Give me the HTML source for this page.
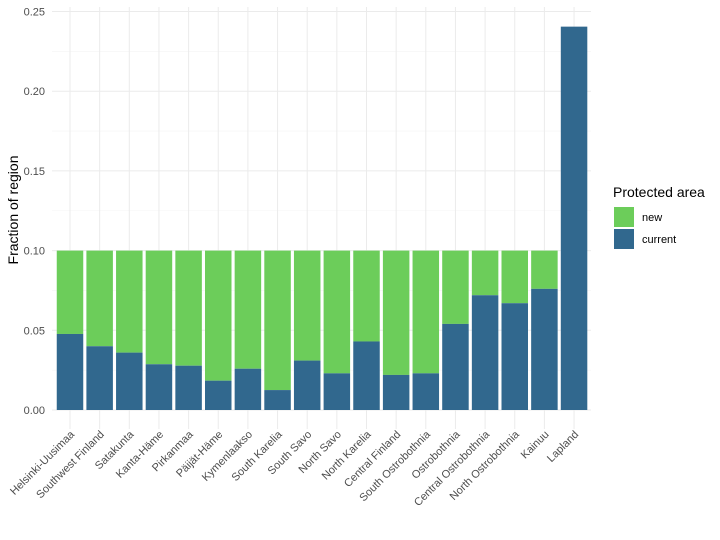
<!DOCTYPE html>
<html><head><meta charset="utf-8"><style>body{margin:0;background:#fff}svg{display:block}</style></head>
<body>
<svg width="720" height="540" xmlns="http://www.w3.org/2000/svg" font-family="Liberation Sans, sans-serif">
<rect width="720" height="540" fill="#fff"/>
<g id="grid"></g>
<g id="bars"></g>
<g id="labels" font-size="11" fill="#4d4d4d"></g>
<g font-size="11" fill="#4d4d4d" text-anchor="end">
<text x="45" y="414">0.00</text>
<text x="45" y="334.3">0.05</text>
<text x="45" y="254.6">0.10</text>
<text x="45" y="174.9">0.15</text>
<text x="45" y="95.2">0.20</text>
<text x="45" y="15.5">0.25</text>
</g>
<text transform="translate(18,210) rotate(-90)" text-anchor="middle" font-size="14" fill="#000">Fraction of region</text>
<text x="613" y="197" font-size="14" fill="#000">Protected area</text>
<rect x="614" y="207" width="20" height="20" fill="#6ccd5a"/>
<rect x="614" y="229" width="20" height="20" fill="#31688e"/>
<text x="642" y="221" font-size="11" fill="#000">new</text>
<text x="642" y="243" font-size="11" fill="#000">current</text>
<script>
var names=["Helsinki-Uusimaa","Southwest Finland","Satakunta","Kanta-Häme","Pirkanmaa","Päijät-Häme","Kymenlaakso","South Karelia","South Savo","North Savo","North Karelia","Central Finland","South Ostrobothnia","Ostrobothnia","Central Ostrobothnia","North Ostrobothnia","Kainuu","Lapland"];
var cur=[0.0477,0.040,0.036,0.0287,0.0278,0.0184,0.0259,0.0125,0.031,0.023,0.043,0.022,0.023,0.054,0.072,0.067,0.076,0.2405];
var ns="http://www.w3.org/2000/svg";
function el(t,a,p){var e=document.createElementNS(ns,t);for(var k in a)e.setAttribute(k,a[k]);document.getElementById(p).appendChild(e);return e;}
var y0=410,s=1594,sp=29.65,w=26.5;
for(var v=0;v<=0.25001;v+=0.025){var y=y0-v*s;var major=Math.round(v*1000)%50==0;el("line",{x1:52,x2:591,y1:y,y2:y,stroke:major?"#ebebeb":"#f4f4f4","stroke-width":major?1:0.6},"grid");}
for(var i=0;i<18;i++){var c=70+sp*i;
el("line",{x1:c,x2:c,y1:7,y2:429,stroke:"#ebebeb","stroke-width":1},"grid");
var top=i==17?cur[i]:0.1;
if(i<17)el("rect",{x:c-w/2,y:y0-0.1*s,width:w,height:(0.1-cur[i])*s,fill:"#6ccd5a"},"bars");
el("rect",{x:c-w/2,y:y0-cur[i]*s,width:w,height:cur[i]*s,fill:"#31688e"},"bars");
var t=el("text",{transform:"translate("+(c+5)+",435) rotate(-45)","text-anchor":"end"},"labels");t.textContent=names[i];}
</script>
</svg>
</body></html>
